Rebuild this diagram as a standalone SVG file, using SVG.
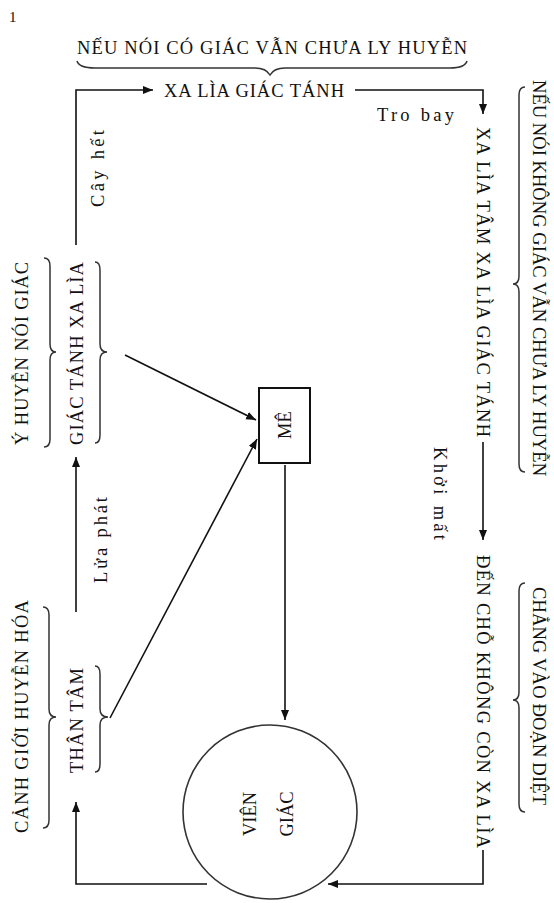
<svg xmlns="http://www.w3.org/2000/svg" width="554" height="903" viewBox="0 0 554 903">
<style>
text{font-family:"Liberation Serif","Times New Roman",serif;font-size:18.5px;fill:#111}
.ln{fill:none;stroke:#111;stroke-width:1.6}
.br{fill:none;stroke:#333;stroke-width:1.5}
</style>
<defs>
<marker id="ah" markerUnits="userSpaceOnUse" markerWidth="11" markerHeight="9" refX="10" refY="4" orient="auto">
<path d="M0,0 L10,4 L0,8 z" fill="#111"/>
</marker>
</defs>
<rect width="554" height="903" fill="#fff"/>
<text x="9" y="22" style="font-size:15px">1</text>

<g id="heading-top">
<text x="77" y="54" textLength="390">NẾU NÓI CÓ GIÁC VẪN CHƯA LY HUYỄN</text>
<path class="br" d="M77,61 Q79,68 95,68 L255,68 Q266,68 270,75 Q274,68 285,68 L450,68 Q465,68 467,61"/>
</g>

<g id="node-xa-lia-giac-tanh">
<text x="164" y="97" textLength="180">XA LÌA GIÁC TÁNH</text>
</g>

<g id="label-y-huyen">
<text transform="translate(22,445) rotate(-90)" x="0" y="6" textLength="183">Ý HUYỄN NÓI GIÁC</text>
<path class="br" d="M44,258 Q50,258 50,266 L50,344 Q50,352 56,352 Q50,352 50,360 L50,439 Q50,447 44,447"/>
</g>

<g id="node-giac-tanh-xa-lia">
<text transform="translate(77,445) rotate(-90)" x="0" y="6" textLength="183">GIÁC TÁNH XA LÌA</text>
<path class="br" d="M95,262 Q100,262 100,270 L100,344 Q100,352 107,352 Q100,352 100,360 L100,435 Q100,443 95,443"/>
</g>

<g id="label-canh-gioi">
<text transform="translate(22,833) rotate(-90)" x="0" y="6" textLength="233">CẢNH GIỚI HUYỄN HÓA</text>
<path class="br" d="M43,607 Q49,607 49,615 L49,709 Q49,717 56,717 Q49,717 49,725 L49,820 Q49,828 43,828"/>
</g>

<g id="node-than-tam">
<text transform="translate(77,773) rotate(-90)" x="0" y="6" textLength="105">THÂN TÂM</text>
<path class="br" d="M95,666 Q100,666 100,674 L100,709 Q100,717 108,717 Q100,717 100,725 L100,764 Q100,772 95,772"/>
</g>

<g id="node-me">
<rect x="259" y="388" width="51" height="75" fill="#fff" stroke="#111" stroke-width="2"/>
<text transform="translate(285,425) rotate(-90)" x="0" y="6" text-anchor="middle">MÊ</text>
</g>

<g id="node-vien-giac">
<circle cx="270" cy="812" r="87" fill="none" stroke="#333" stroke-width="1.6"/>
<text transform="translate(250,814) rotate(-90)" x="0" y="6" text-anchor="middle">VIÊN</text>
<text transform="translate(287,814) rotate(-90)" x="0" y="6" text-anchor="middle">GIÁC</text>
</g>

<g id="node-xa-lia-tam">
<text transform="translate(483,127) rotate(90)" x="0" y="6" textLength="310">XA LÌA TÂM XA LÌA GIÁC TÁNH</text>
</g>

<g id="node-den-cho">
<text transform="translate(483,555) rotate(90)" x="0" y="6" textLength="293">ĐẾN CHỖ KHÔNG CÒN XA LÌA</text>
</g>

<g id="label-neu-noi-khong">
<text transform="translate(539,80) rotate(90)" x="0" y="6" textLength="396">NẾU NÓI KHÔNG GIÁC VẪN CHƯA LY HUYỄN</text>
<path class="br" d="M525,87 Q519,87 519,95 L519,276 Q519,284 513,284 Q519,284 519,292 L519,464 Q519,472 525,472"/>
</g>

<g id="label-chang-vao">
<text transform="translate(539,587) rotate(90)" x="0" y="6" textLength="218">CHẲNG VÀO ĐOẠN DIỆT</text>
<path class="br" d="M525,583 Q519,583 519,591 L519,692 Q519,700 513,700 Q519,700 519,708 L519,804 Q519,812 525,812"/>
</g>

<g id="connectors">
<path class="ln" d="M76,245 V90 H153" marker-end="url(#ah)"/>
<text transform="translate(98,207) rotate(-90)" x="0" y="6" textLength="77">Cây hết</text>
<path class="ln" d="M355,90 H483 V114" marker-end="url(#ah)"/>
<text x="377" y="121" textLength="77">Tro bay</text>
<path class="ln" d="M483,442 V540" marker-end="url(#ah)"/>
<text transform="translate(440,447) rotate(90)" x="0" y="6" textLength="93">Khởi mất</text>
<path class="ln" d="M483,850 V884 H328" marker-end="url(#ah)"/>
<path class="ln" d="M207,884 H76 V802" marker-end="url(#ah)"/>
<path class="ln" d="M76,612 V457" marker-end="url(#ah)"/>
<text transform="translate(101,583) rotate(-90)" x="0" y="6" textLength="86">Lửa phát</text>
<path class="ln" d="M125,355 L256,420" marker-end="url(#ah)"/>
<path class="ln" d="M110,718 L257,439" marker-end="url(#ah)"/>
<path class="ln" d="M285,465 V720" marker-end="url(#ah)"/>
</g>
</svg>
